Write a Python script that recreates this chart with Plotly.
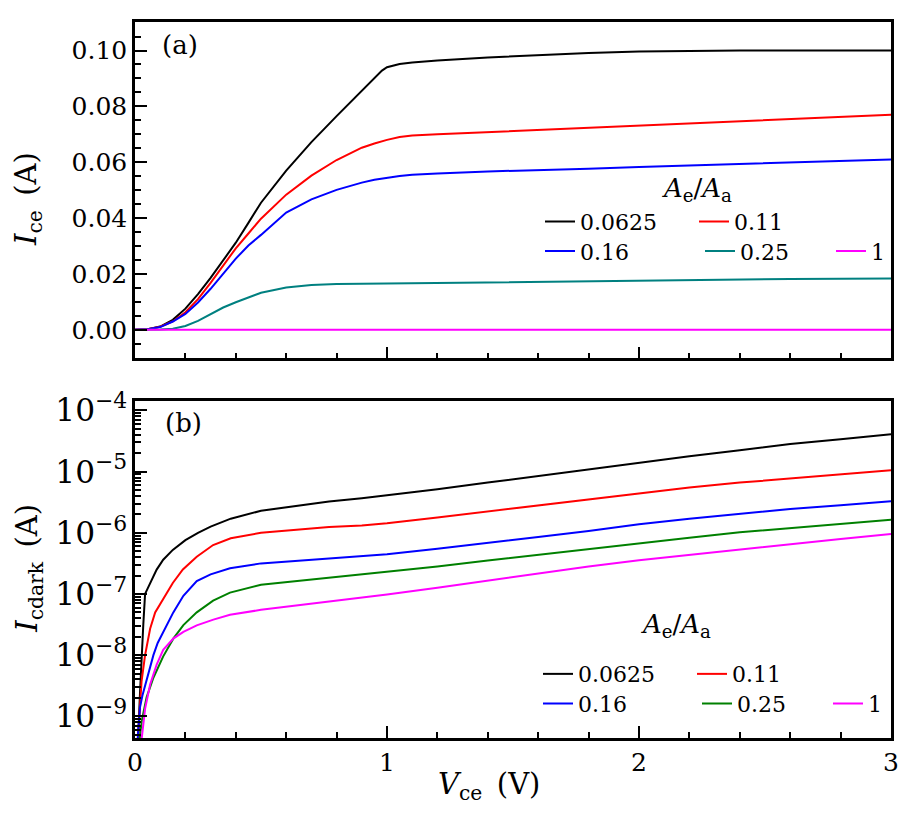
import plotly.graph_objects as go

# ---------------- data ----------------
series_labels = ["0.0625", "0.11", "0.16", "0.25", "1"]

# panel (a): I_ce vs V_ce
v_a = [0, 0.05, 0.1, 0.15, 0.2, 0.25, 0.3, 0.35, 0.4, 0.45, 0.5, 0.6, 0.7, 0.8, 0.9,
       0.95, 0.98, 1.0, 1.05, 1.1, 1.2, 1.4, 1.6, 1.8, 2.0, 2.2, 2.4, 2.6, 2.8, 3.0]
ice_0625 = [0, 0.0002, 0.0012, 0.0036, 0.0076, 0.0128, 0.0186, 0.0250, 0.0312, 0.0383, 0.0455,
            0.0570, 0.0672, 0.0765, 0.0855, 0.0903, 0.0928, 0.0940, 0.0952, 0.0957, 0.0964,
            0.0975, 0.0984, 0.0991, 0.0996, 0.0999, 0.1000, 0.1000, 0.1000, 0.1000]
ice_011 = [0, 0.0002, 0.0011, 0.0030, 0.0063, 0.0110, 0.0168, 0.0230, 0.0292, 0.0345, 0.0398,
           0.0484, 0.0552, 0.0608, 0.0652, 0.0667, 0.0675, 0.0680, 0.0690, 0.0696, 0.0700,
           0.0708, 0.0715, 0.0723, 0.0731, 0.0739, 0.0747, 0.0755, 0.0763, 0.0770]
ice_016 = [0, 0.0002, 0.0010, 0.0030, 0.0057, 0.0098, 0.0147, 0.0200, 0.0255, 0.0302, 0.0340,
           0.0420, 0.0467, 0.0501, 0.0527, 0.0537, 0.0542, 0.0545, 0.0551, 0.0555, 0.0560,
           0.0567, 0.0571, 0.0577, 0.0583, 0.0588, 0.0593, 0.0598, 0.0604, 0.0610]
ice_025 = [0, 0, 0.0001, 0.0004, 0.0014, 0.0032, 0.0055, 0.0080, 0.0099, 0.0117, 0.0133,
           0.0152, 0.0161, 0.0164, 0.0165, 0.0166, 0.0166, 0.0166, 0.0166, 0.0167, 0.0168,
           0.0171, 0.0174, 0.0176, 0.0178, 0.0180, 0.0181, 0.0182, 0.0183, 0.0184]
ice_1 = [0] * 30

# panel (b): I_cdark vs V_ce (log scale)
v_b_0625 = [0.008, 0.013, 0.02, 0.026, 0.033, 0.04, 0.06, 0.086, 0.112, 0.15, 0.2, 0.25, 0.3,
            0.38, 0.5, 0.64, 0.77, 0.9, 1.0, 1.2, 1.4, 1.6, 1.8, 2.0, 2.2, 2.4, 2.6, 2.8, 3.0]
idark_0625 = [2.5e-10, 5.0e-10, 2.5e-9, 1.0e-8, 3.2e-8, 1.0e-7, 1.51e-7, 2.5e-7, 3.63e-7,
              5.25e-7, 7.59e-7, 1.0e-6, 1.26e-6, 1.70e-6, 2.29e-6, 2.78e-6, 3.24e-6, 3.67e-6,
              4.07e-6, 5.13e-6, 6.61e-6, 8.51e-6, 1.10e-5, 1.41e-5, 1.78e-5, 2.24e-5, 2.82e-5,
              3.39e-5, 4.07e-5]

v_b_011 = [0.008, 0.017, 0.026, 0.04, 0.06, 0.08, 0.112, 0.15, 0.19, 0.245, 0.31, 0.38, 0.5,
           0.64, 0.77, 0.9, 1.0, 1.2, 1.4, 1.6, 1.8, 2.0, 2.2, 2.4, 2.6, 2.8, 3.0]
idark_011 = [2.5e-10, 1.0e-9, 3.72e-9, 1.0e-8, 2.69e-8, 5.0e-8, 8.22e-8, 1.51e-7, 2.51e-7,
             4.07e-7, 6.31e-7, 8.13e-7, 1.0e-6, 1.12e-6, 1.245e-6, 1.32e-6, 1.43e-6, 1.78e-6,
             2.24e-6, 2.82e-6, 3.55e-6, 4.47e-6, 5.50e-6, 6.61e-6, 7.76e-6, 9.12e-6, 1.05e-5]

v_b_016 = [0.01, 0.02, 0.03, 0.04, 0.055, 0.073, 0.09, 0.112, 0.152, 0.192, 0.245, 0.3, 0.377,
           0.5, 0.64, 0.77, 0.9, 1.0, 1.2, 1.4, 1.6, 1.8, 2.0, 2.2, 2.4, 2.6, 2.8, 3.0]
idark_016 = [3.98e-10, 1.41e-9, 2.24e-9, 3.16e-9, 5.0e-9, 1.0e-8, 1.58e-8, 2.40e-8, 5.0e-8,
             9.33e-8, 1.62e-7, 2.09e-7, 2.63e-7, 3.16e-7, 3.47e-7, 3.80e-7, 4.17e-7, 4.47e-7,
             5.50e-7, 6.76e-7, 8.51e-7, 1.07e-6, 1.38e-6, 1.70e-6, 2.04e-6, 2.45e-6, 2.82e-6,
             3.27e-6]

v_b_025 = [0.015, 0.027, 0.046, 0.073, 0.112, 0.152, 0.192, 0.245, 0.31, 0.377, 0.5, 0.64,
           0.77, 0.9, 1.0, 1.2, 1.4, 1.6, 1.8, 2.0, 2.2, 2.4, 2.6, 2.8, 3.0]
idark_025 = [3.16e-10, 8.5e-10, 2.04e-9, 4.27e-9, 9.55e-9, 1.86e-8, 3.09e-8, 5.0e-8, 7.76e-8,
             1.05e-7, 1.41e-7, 1.62e-7, 1.84e-7, 2.09e-7, 2.26e-7, 2.82e-7, 3.51e-7, 4.37e-7,
             5.43e-7, 6.76e-7, 8.32e-7, 1.02e-6, 1.20e-6, 1.41e-6, 1.64e-6]

v_b_1 = [0.02, 0.0265, 0.04, 0.06, 0.086, 0.112, 0.152, 0.192, 0.245, 0.311, 0.377, 0.5, 0.64,
         0.77, 0.9, 1.0, 1.2, 1.4, 1.6, 1.8, 2.0, 2.2, 2.4, 2.6, 2.8, 3.0]
idark_1 = [2.5e-10, 4.57e-10, 1.32e-9, 3.31e-9, 6.97e-9, 1.22e-8, 1.86e-8, 2.40e-8, 3.07e-8,
           3.80e-8, 4.57e-8, 5.50e-8, 6.46e-8, 7.46e-8, 8.51e-8, 9.77e-8, 1.26e-7, 1.66e-7,
           2.19e-7, 2.82e-7, 3.55e-7, 4.37e-7, 5.37e-7, 6.61e-7, 7.94e-7, 9.55e-7]

x_tick_vals = [0, 1, 2, 3]
x_tick_text = ["0", "1", "2", "3"]
ya_tick_vals = [0.00, 0.02, 0.04, 0.06, 0.08, 0.10]

# ---------------- styling ----------------
FONT = "DejaVu Serif"
colors_a = ["#000000", "#ff0000", "#0000ff", "#008080", "#ff00ff"]
colors_b = ["#000000", "#ff0000", "#0000ff", "#008000", "#ff00ff"]

# the page body adds an 8 px margin, so the figure is made 8 px smaller
BODY = 8
VW, VH = 909, 821
W, H = VW - BODY, VH - BODY
PL, PR, PT, PB = 135, 891, 10, 738          # plot box in page pixels
ML, MR, MT, MB = PL - BODY, VW - PR, PT - BODY, VH - PB
PW, PH = PR - PL, PB - PT


def px(x):
    return (x - PL) / PW


def py(y):
    return (PB - y) / PH


fig = go.Figure()

a_vals = [ice_0625, ice_011, ice_016, ice_025, ice_1]
b_x = [v_b_0625, v_b_011, v_b_016, v_b_025, v_b_1]
b_vals = [idark_0625, idark_011, idark_016, idark_025, idark_1]

# legend rows: row 1 -> first two series, row 2 -> last three
row_of = ["1", "1", "2", "2", "2"]
entry_w_a = [109, 80, 115, 86, 30]
entry_w_b = [109, 80, 114, 86, 30]

for i, lab in enumerate(series_labels):
    fig.add_trace(go.Scatter(
        x=v_a, y=a_vals[i], mode="lines", name=lab,
        line=dict(color=colors_a[i], width=2),
        xaxis="x", yaxis="y",
        legend="legend" if row_of[i] == "1" else "legend2",
        legendwidth=entry_w_a[i],
    ))
for i, lab in enumerate(series_labels):
    fig.add_trace(go.Scatter(
        x=b_x[i], y=b_vals[i], mode="lines", name=lab,
        line=dict(color=colors_b[i], width=2),
        xaxis="x2", yaxis="y2",
        legend="legend3" if row_of[i] == "1" else "legend4",
        legendwidth=entry_w_b[i],
    ))

axis_common = dict(
    showline=True, linecolor="black", linewidth=2.5, mirror=True,
    ticks="inside", ticklen=12, tickwidth=2, tickcolor="black",
    showgrid=False, zeroline=False,
    tickfont=dict(family=FONT, size=25, color="black"),
)

leg_common = dict(
    orientation="h", bgcolor="rgba(0,0,0,0)", borderwidth=0,
    font=dict(family=FONT, size=22, color="black"),
    xanchor="left", yanchor="middle", itemwidth=30, tracegroupgap=0,
)

legend_left = px(540)

fig.update_layout(
    width=W, height=H,
    margin=dict(l=ML, r=MR, t=MT, b=MB, pad=0),
    paper_bgcolor="white", plot_bgcolor="white",
    font=dict(family=FONT, color="black"),
    showlegend=True,
    xaxis=dict(axis_common, domain=[0, 1], range=[0, 3], anchor="y",
               tickvals=x_tick_vals, showticklabels=False,
               minor=dict(ticks="inside", ticklen=6, tickwidth=1.5, dtick=0.2,
                          tickcolor="black", showgrid=False)),
    yaxis=dict(axis_common, domain=[py(352), 1], range=[-0.0102, 0.1102], anchor="x",
               tickvals=ya_tick_vals, tickformat=".2f",
               minor=dict(ticks="inside", ticklen=6, tickwidth=1.5, dtick=0.005,
                          tickcolor="black", showgrid=False)),
    xaxis2=dict(axis_common, domain=[0, 1], range=[0, 3], anchor="y2",
                tickvals=x_tick_vals, ticktext=x_tick_text,
                minor=dict(ticks="inside", ticklen=6, tickwidth=1.5, dtick=0.2,
                           tickcolor="black", showgrid=False)),
    yaxis2=dict(axis_common, domain=[0, py(395)], type="log", range=[-9.355, -3.84],
                anchor="x2", dtick=1, exponentformat="power",
                minor=dict(ticks="inside", ticklen=6, tickwidth=1.5, dtick="D1",
                           tickcolor="black", showgrid=False)),
    legend=dict(leg_common, x=legend_left, y=py(213)),
    legend2=dict(leg_common, x=legend_left, y=py(243)),
    legend3=dict(leg_common, x=legend_left - 2 / PW, y=py(673)),
    legend4=dict(leg_common, x=legend_left - 2 / PW, y=py(703)),
)

ann_font = dict(family=FONT, color="black")
annotations = [
    dict(text="(a)", x=px(180), y=py(33), font=dict(ann_font, size=26)),
    dict(text="(b)", x=px(183), y=py(418), font=dict(ann_font, size=26)),
    dict(text="<i>A</i><sub>e</sub>/<i>A</i><sub>a</sub>", x=px(697), y=py(180),
         font=dict(ann_font, size=26)),
    dict(text="<i>A</i><sub>e</sub>/<i>A</i><sub>a</sub>", x=px(676), y=py(624),
         font=dict(ann_font, size=26)),
    dict(text="<i>I</i><sub>ce</sub>\u2002(A)", x=px(28), y=py(190), textangle=-90,
         font=dict(ann_font, size=29)),
    dict(text="<i>I</i><sub>cdark</sub>\u2002(A)", x=px(29), y=py(566), textangle=-90,
         font=dict(ann_font, size=29)),
    dict(text="<i>V</i><sub>ce</sub>\u2002(V)", x=px(489), y=py(787),
         font=dict(ann_font, size=29)),
]
for a in annotations:
    a.update(xref="paper", yref="paper", showarrow=False, xanchor="center", yanchor="middle")
fig.update_layout(annotations=annotations)

fig.write_html("out.html", config={"displayModeBar": False})
